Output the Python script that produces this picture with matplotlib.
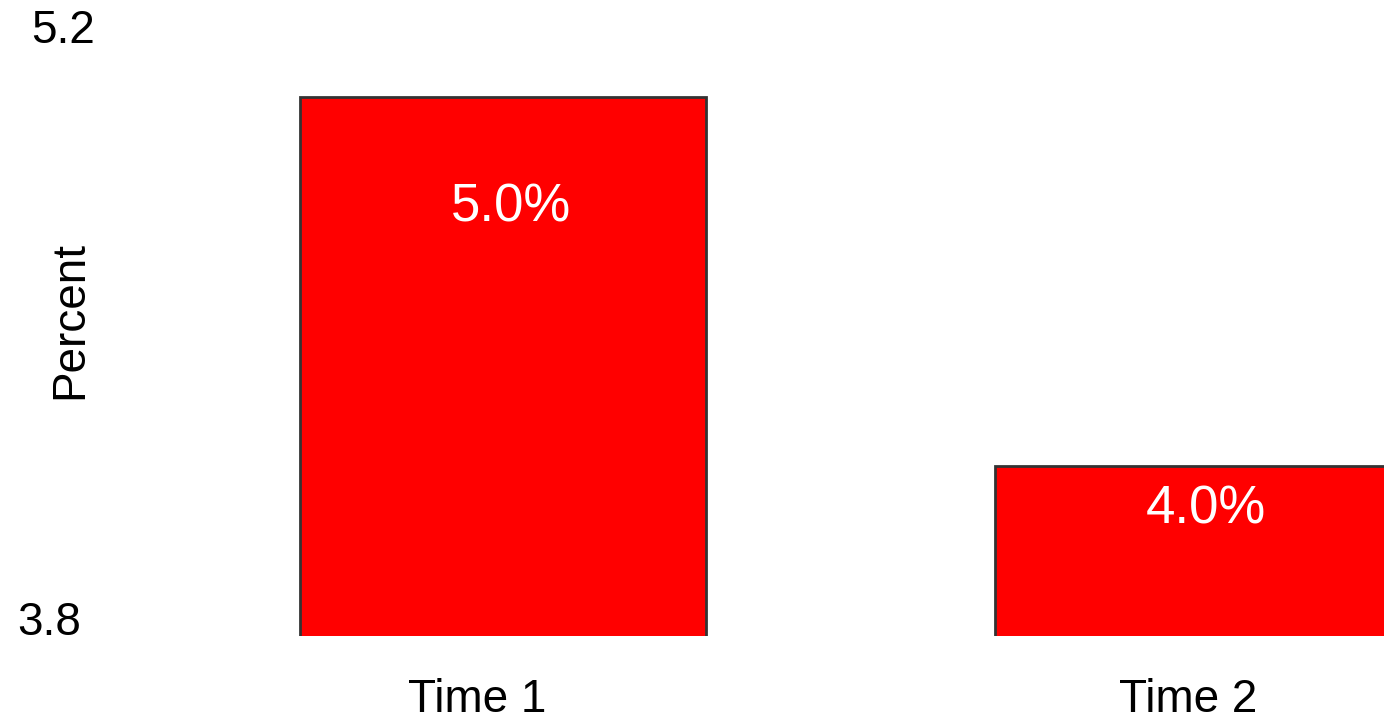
import matplotlib.pyplot as plt
import matplotlib.transforms as mtransforms

plt.rcParams['font.family'] = ['Liberation Sans', 'DejaVu Sans']

categories = ['Time 1', 'Time 2']
values = [5.005, 4.18]
bar_labels = ['5.0%', '4.0%']
y_ticks = [3.8, 5.2]

fig = plt.figure(figsize=(13.84, 7.2), dpi=100)
ax = fig.add_axes([100 / 1384, 84 / 720, 1284 / 1384, 626 / 720])

x = list(range(len(categories)))
ax.bar(x, values, width=0.584, color='#ff0000', edgecolor='#333333', linewidth=2)
ax.set_xlim(-0.58, 1.268)
ax.set_ylim(y_ticks[0], y_ticks[1])

# value labels inside the bars (pixel offsets below the bar top)
label_drop = [110, 43]
for xi, v, lab, d in zip(x, values, bar_labels, label_drop):
    ax.annotate(lab, (xi, v), xytext=(8, -d), textcoords='offset pixels',
                ha='center', va='center', color='white', fontsize=38)

# y axis: only the two limits are labelled
ax.set_yticks([])
ax.annotate('5.2', (0, y_ticks[1]), xycoords=('axes fraction', 'data'),
            xytext=(-5, -33), textcoords='offset pixels',
            ha='right', va='baseline', fontsize=33)
ax.annotate('3.8', (0, y_ticks[0]), xycoords=('axes fraction', 'data'),
            xytext=(-19, 1), textcoords='offset pixels',
            ha='right', va='baseline', fontsize=33)

ax.set_xticks(x)
ax.set_xticklabels(categories, fontsize=33)
ax.tick_params(axis='x', length=0, pad=30)
# labels sit a little left of the bar centres in the original
for lbl, dx in zip(ax.get_xticklabels(), [-26, -10]):
    lbl.set_transform(lbl.get_transform() +
                      mtransforms.ScaledTranslation(dx / 100, 0, fig.dpi_scale_trans))

for s in ax.spines.values():
    s.set_visible(False)

fig.text(70 / 1384, 1 - 320 / 720, 'Percent', rotation=90,
         ha='center', va='center', fontsize=33)

fig.savefig('out.png', dpi=100)
